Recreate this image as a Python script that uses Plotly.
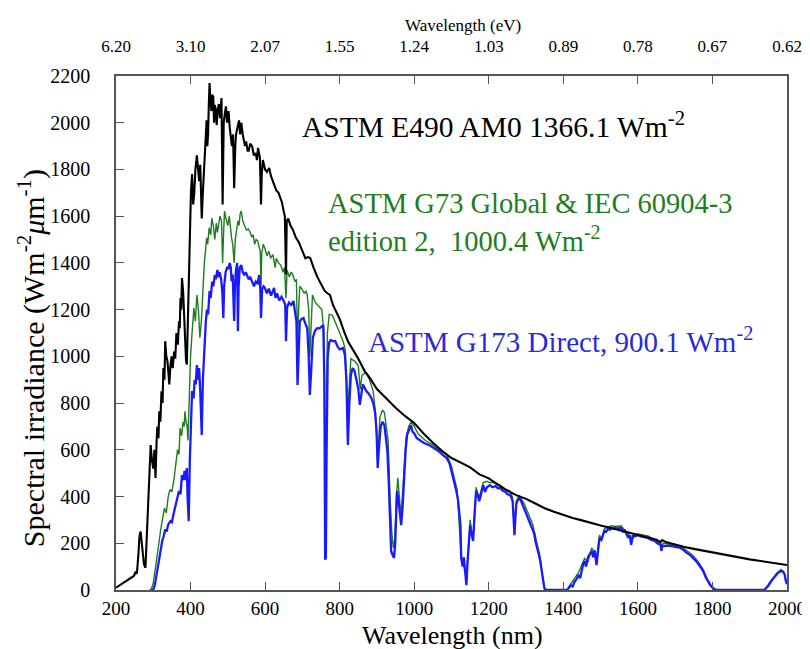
import plotly.graph_objects as go

# ---------------- data ----------------
am0_nm = [200,205,212,220,228,235,242,248,252,256,260,263,266,269,272,275,279,282,285,288,291,293,296,300,303,306,309,311,314,316,319,322,325,327,330,332,335,338,341,343,346,349,352,356,359,362,366,369,371,373,375,377,380,382,384,386,388,390,392,394,396,398,401,404,407,410,413,417,420,423,426,430,433,436,439,443,445,447,449,451,453,456,458,461,463,465,468,470,473,476,479,483,486,489,492,495,498,502,505,508,511,514,517,520,522,526,530,533,536,540,543,546,549,553,556,560,565,570,575,578,581,584,586,589,591,594,597,600,605,611,616,620,624,630,636,640,645,650,653,656,658,662,668,675,682,690,698,708,715,721,730,740,750,760,767,774,782,790,800,811,822,835,850,867,880,900,925,950,975,1000,1025,1050,1075,1100,1125,1150,1175,1200,1225,1250,1275,1300,1325,1350,1375,1400,1425,1450,1475,1500,1525,1550,1575,1600,1625,1650,1660,1665,1675,1700,1725,1750,1775,1800,1825,1850,1875,1900,1925,1950,1975,2000]
am0_val = [10,15,22,30,38,45,55,60,75,70,150,230,250,200,130,110,95,200,350,460,560,620,560,520,600,480,640,700,650,765,720,850,800,950,900,1065,1000,980,920,880,960,1000,950,1020,990,1100,1050,1150,1120,1250,1200,1335,1280,1200,1100,1050,980,965,1100,1300,1450,1600,1700,1780,1650,1700,1800,1860,1780,1750,1820,1590,1700,1800,1900,2010,1900,1950,2080,2170,2100,2050,2120,2110,2000,2076,2050,1990,2060,2080,2020,2106,1650,2000,2040,2070,2000,2050,1980,1950,1900,1950,1720,1900,1950,1980,2010,1950,2000,1950,1930,1900,1920,1880,1880,1910,1900,1860,1870,1840,1892,1860,1850,1650,1780,1840,1820,1800,1790,1806,1770,1750,1734,1710,1700,1680,1660,1620,1600,1350,1580,1590,1560,1540,1510,1490,1460,1420,1425,1421,1380,1340,1310,1280,1270,1263,1220,1190,1160,1110,1065,1030,990,937,910,860,820,780,745,715,670,630,595,565,545,525,495,478,450,425,405,390,370,350,335,320,308,298,286,276,266,256,246,238,226,215,205,214,205,193,184,176,168,160,152,144,137,131,125,119,113,107]

glob_nm = [290,295,300,305,310,315,320,325,330,335,340,345,350,356,360,365,369,372,376,380,383,385,388,391,393,396,400,404,409,413,417,421,425,429,432,435,437,440,443,446,450,454,457,461,465,469,472,475,479,483,486,488,491,495,500,504,507,510,513,517,520,523,527,530,533,536,540,545,550,555,560,564,568,572,576,580,584,587,589,591,595,600,605,610,615,621,627,630,636,642,648,652,656,659,665,670,674,680,684,687,690,693,698,705,710,713,717,720,724,727,735,745,752,758,761,764,767,772,780,790,800,809,815,819,822,825,830,840,850,855,860,870,880,890,896,902,908,915,920,925,930,935,940,944,948,952,956,961,965,969,973,978,985,992,1000,1010,1030,1050,1070,1087,1100,1105,1110,1115,1120,1125,1130,1137,1140,1145,1150,1155,1160,1166,1172,1177,1185,1195,1203,1215,1230,1245,1256,1263,1269,1274,1282,1295,1309,1318,1325,1332,1338,1344,1349,1355,1410,1415,1425,1441,1450,1457,1466,1476,1483,1489,1497,1503,1510,1520,1529,1540,1555,1565,1574,1582,1590,1600,1627,1645,1661,1663,1667,1690,1714,1730,1749,1762,1775,1785,1794,1805,1812,1940,1950,1960,1971,1984,1992,1997,2000]
glob_val = [0,5,30,80,140,200,260,300,350,330,400,430,420,480,540,600,580,693,660,720,700,765,720,700,640,850,1000,1100,1207,1150,1263,1200,1080,1150,1250,1380,1400,1450,1507,1480,1550,1520,1592,1560,1500,1570,1530,1562,1600,1580,1400,1500,1622,1590,1560,1600,1540,1507,1480,1400,1500,1540,1580,1560,1610,1622,1580,1560,1540,1545,1530,1510,1520,1480,1500,1494,1470,1450,1300,1440,1480,1460,1430,1450,1420,1435,1380,1420,1400,1391,1360,1380,1250,1370,1340,1360,1350,1320,1330,1050,1200,1300,1290,1270,1280,1263,1200,1000,1150,1263,1230,1210,1200,1100,400,700,1100,1180,1177,1140,1100,1065,1030,900,760,850,990,980,960,860,920,930,900,850,760,560,740,770,760,700,640,400,240,180,220,400,480,380,320,420,540,650,700,720,700,670,640,620,595,580,530,500,460,430,300,160,120,80,40,150,300,230,250,440,400,410,460,465,460,460,450,430,425,400,260,380,405,370,310,280,230,180,140,60,10,0,0,15,40,75,110,135,120,180,160,125,235,215,262,270,275,272,275,255,240,205,235,240,232,215,202,178,200,195,188,170,146,120,88,50,25,5,0,0,15,40,70,88,75,42,30]

dir_nm = [295,300,304,308,312,316,320,324,328,332,336,340,346,350,355,360,365,369,373,377,380,384,387,390,392,395,398,401,404,408,411,414,417,420,423,426,430,433,436,438,441,444,447,451,454,458,461,465,468,472,475,478,482,485,488,490,494,498,502,505,508,510,513,517,519,522,525,527,529,532,536,540,544,548,552,556,560,565,570,575,580,584,587,589,592,596,600,605,610,616,620,624,628,632,638,644,650,654,656,659,664,670,676,680,684,687,690,693,698,703,708,713,717,720,724,728,734,740,746,752,756,759,761,763,765,768,772,776,782,788,795,800,809,814,818,822,826,830,835,840,845,850,854,858,862,867,872,878,885,890,895,899,902,905,910,915,920,924,928,932,935,938,942,946,949,952,954,958,962,965,969,973,977,981,986,991,995,1000,1007,1015,1025,1040,1052,1065,1075,1087,1095,1100,1105,1109,1113,1118,1121,1124,1126,1130,1133,1137,1140,1143,1147,1150,1154,1158,1162,1166,1170,1174,1177,1181,1185,1190,1195,1203,1210,1218,1225,1230,1238,1245,1250,1256,1260,1264,1267,1269,1271,1274,1278,1282,1287,1292,1297,1303,1309,1314,1318,1322,1325,1329,1333,1338,1342,1346,1349,1352,1410,1415,1420,1425,1430,1435,1441,1445,1449,1453,1457,1461,1466,1470,1476,1480,1484,1489,1493,1497,1502,1506,1510,1515,1520,1525,1529,1535,1540,1545,1550,1555,1560,1565,1570,1574,1578,1582,1586,1592,1600,1610,1620,1627,1635,1645,1652,1658,1661,1663,1666,1672,1680,1690,1700,1714,1722,1730,1740,1749,1757,1765,1775,1782,1788,1794,1800,1806,1812,1940,1944,1950,1958,1965,1971,1977,1984,1990,1994,1997,2000]
dir_val = [0,2,20,60,100,140,180,210,230,260,250,280,295,290,330,360,400,424,410,492,470,510,470,522,400,295,550,720,852,820,900,880,963,900,950,850,664,900,1000,1108,1150,1200,1180,1280,1250,1320,1300,1348,1330,1370,1340,1360,1330,1280,1164,1300,1360,1380,1378,1400,1380,1322,1350,1151,1300,1370,1400,1108,1300,1380,1391,1360,1350,1360,1340,1330,1340,1320,1300,1320,1310,1348,1290,1164,1290,1300,1290,1270,1290,1260,1280,1293,1250,1270,1240,1255,1237,1220,1065,1210,1230,1220,1237,1200,1150,878,1000,1150,1160,1164,1140,1120,1000,835,950,1080,1110,1121,1120,1130,1134,900,130,140,600,1000,1060,1070,1065,1065,1040,1030,1036,1006,900,621,800,920,950,937,900,860,792,840,880,865,850,840,822,800,760,680,522,600,700,720,706,650,595,450,300,167,150,137,200,350,424,380,300,278,360,509,600,664,690,706,680,670,650,640,630,620,608,595,580,565,540,510,479,460,424,380,320,278,137,100,140,64,21,120,200,278,240,210,330,424,410,380,394,430,449,420,440,449,440,445,435,437,425,420,410,407,400,380,300,235,300,370,385,394,380,360,345,320,295,280,260,240,210,190,160,124,80,40,9,0,0,9,20,15,35,45,64,50,80,110,124,100,140,150,167,140,170,107,180,223,215,240,252,250,262,258,265,262,268,262,266,265,250,255,240,223,235,193,230,230,235,228,225,223,215,210,200,195,193,167,190,188,190,188,185,180,172,160,150,137,122,105,81,55,35,21,10,3,0,0,9,20,40,55,64,75,81,78,65,38,25]

top_tick_nm = [200, 400, 600, 800, 1000, 1200, 1400, 1600, 1800, 2000]
top_tick_ev = ["6.20", "3.10", "2.07", "1.55", "1.24", "1.03", "0.89", "0.78", "0.67", "0.62"]

label_am0 = "ASTM E490 AM0 1366.1 Wm<sup>-2</sup>"
label_glob1 = "ASTM G73 Global &amp; IEC 60904-3"
label_glob2 = "edition 2,  1000.4 Wm<sup>-2</sup>"
label_dir = "ASTM G173 Direct, 900.1 Wm<sup>-2</sup>"

# ---------------- figure ----------------
FONT = "Liberation Serif"
BLACK = "#000000"
GREEN = "#1f7d1f"
BLUE = "#1a1aff"

fig = go.Figure()
fig.add_trace(go.Scatter(x=glob_nm, y=glob_val, mode="lines",
                         line=dict(color=GREEN, width=1.4), hoverinfo="skip"))
fig.add_trace(go.Scatter(x=dir_nm, y=dir_val, mode="lines",
                         line=dict(color=BLUE, width=2.3), hoverinfo="skip"))
# AM0 drawn on the top (eV-labelled) axis, which shares the same nm range
fig.add_trace(go.Scatter(x=am0_nm, y=am0_val, mode="lines", xaxis="x2",
                         line=dict(color=BLACK, width=2.1), hoverinfo="skip"))

axis_line = "#555555"
fig.update_layout(
    width=810, height=649,
    margin=dict(l=108, r=22, t=68, b=67),
    paper_bgcolor="white", plot_bgcolor="white",
    showlegend=False,
    font=dict(family=FONT, color="black"),
    xaxis=dict(range=[200, 2000], tickvals=top_tick_nm, ticks="inside", ticklen=8,
               tickcolor=axis_line, showline=True, linecolor=axis_line, linewidth=1.5,
               mirror=True, showgrid=False, zeroline=False,
               tickfont=dict(family=FONT, size=19), ticklabelstandoff=0),
    xaxis2=dict(range=[200, 2000], overlaying="x", side="top", anchor="y",
                tickvals=top_tick_nm, ticktext=top_tick_ev, ticks="inside", ticklen=8,
                tickcolor=axis_line, showline=False, showgrid=False, zeroline=False,
                tickfont=dict(family=FONT, size=17), ticklabelstandoff=20),
    yaxis=dict(range=[0, 2200], dtick=200, ticks="inside", ticklen=8,
               tickcolor=axis_line, showline=True, linecolor=axis_line, linewidth=1.5,
               mirror=True, showgrid=False, zeroline=False,
               tickfont=dict(family=FONT, size=20), ticklabelstandoff=20),
)

def px2paper_x(px):
    return (px - 108) / 680.0

def px2paper_y(py):
    return (582 - py) / 514.0

ann = [
    dict(text="Wavelength (eV)", x=px2paper_x(460), y=px2paper_y(18), size=17,
         color="black", xanchor="center", angle=0),
    dict(text="Wavelength (nm)", x=px2paper_x(449), y=px2paper_y(627), size=26,
         color="black", xanchor="center", angle=0),
    dict(text="Spectral irradiance (Wm<sup>-2</sup><i>μ</i>m<sup>-1</sup>)",
         x=px2paper_x(22), y=px2paper_y(350), size=30, color="black",
         xanchor="center", angle=-90),
    dict(text=label_am0, x=px2paper_x(294), y=px2paper_y(117), size=29.5,
         color=BLACK, xanchor="left", angle=0),
    dict(text=label_glob1, x=px2paper_x(321), y=px2paper_y(195), size=28.5,
         color=GREEN, xanchor="left", angle=0),
    dict(text=label_glob2, x=px2paper_x(321), y=px2paper_y(231), size=28.5,
         color=GREEN, xanchor="left", angle=0),
    dict(text=label_dir, x=px2paper_x(361), y=px2paper_y(332), size=29,
         color="#2a2ad6", xanchor="left", angle=0),
]
for a in ann:
    fig.add_annotation(text=a["text"], xref="paper", yref="paper", x=a["x"], y=a["y"],
                       xanchor=a["xanchor"], yanchor="middle", showarrow=False,
                       textangle=a["angle"],
                       font=dict(family=FONT, size=a["size"], color=a["color"]))

fig.write_html("out.html")
